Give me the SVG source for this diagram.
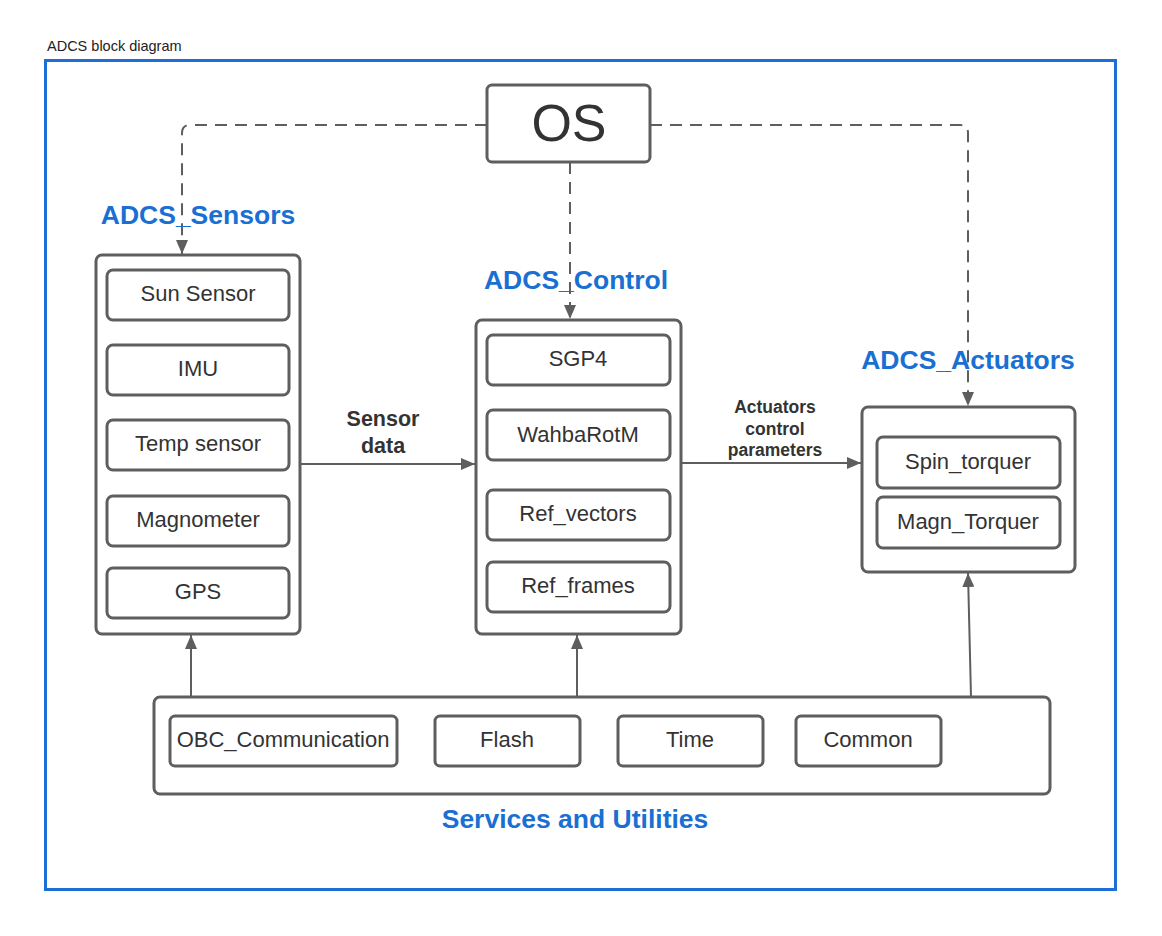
<svg xmlns="http://www.w3.org/2000/svg" width="1162" height="936" viewBox="0 0 1162 936">
<defs>
<marker id="ah" viewBox="0 0 14 12" refX="14" refY="6" markerWidth="14" markerHeight="12" markerUnits="userSpaceOnUse" orient="auto">
<path d="M0,0 L14,6 L0,12 z" fill="#5e5e5e"/>
</marker>
<style>
.box{fill:#fff;stroke:#5e5e5e;stroke-width:3}
.item{fill:#fff;stroke:#5e5e5e;stroke-width:3}
.t{font-family:"Liberation Sans",Arial,sans-serif;font-size:22px;fill:#333;text-anchor:middle;dominant-baseline:central}
.os{font-family:"Liberation Sans",Arial,sans-serif;font-size:52px;fill:#333;text-anchor:middle;dominant-baseline:central}
.h{font-family:"Liberation Sans",Arial,sans-serif;font-size:26.5px;font-weight:bold;fill:#1a6fd3;text-anchor:middle}
.lbl{font-family:"Liberation Sans",Arial,sans-serif;font-weight:bold;fill:#333;text-anchor:middle}
.l1{font-size:21.5px}
.l2{font-size:17.5px}
.c{fill:none;stroke:#5e5e5e;stroke-width:2}
.d{fill:none;stroke:#5e5e5e;stroke-width:2;stroke-dasharray:12 8}
</style>
</defs>
<rect width="1162" height="936" fill="#fff"/>
<text x="47" y="51" font-family="Liberation Sans,Arial,sans-serif" font-size="14.5" fill="#222">ADCS block diagram</text>
<rect x="45.5" y="60.5" width="1070" height="829" fill="none" stroke="#1d6fd6" stroke-width="3"/>

<g id="connectors">
<path class="d" d="M487,125 H190 Q182,125 182,133 V254" marker-end="url(#ah)"/>
<path class="d" d="M570,162 V319" marker-end="url(#ah)"/>
<path class="d" d="M650,125 H960 Q968,125 968,133 V406" marker-end="url(#ah)"/>
<path class="c" d="M300,464 H475" marker-end="url(#ah)"/>
<path class="c" d="M681,463 H861" marker-end="url(#ah)"/>
<path class="c" d="M191,697 V635" marker-end="url(#ah)"/>
<path class="c" d="M577,697 V635" marker-end="url(#ah)"/>
<path class="c" d="M971,697 L968,573" marker-end="url(#ah)"/>
<text class="lbl l1" x="383" y="426">Sensor</text>
<text class="lbl l1" x="383" y="453">data</text>
<text class="lbl l2" x="775" y="413">Actuators</text>
<text class="lbl l2" x="775" y="435">control</text>
<text class="lbl l2" x="775" y="456">parameters</text>
</g>

<g id="os">
<rect class="box" x="487" y="85" width="163" height="77" rx="5"/>
<text class="os" x="569" y="123">OS</text>
</g>

<g id="sensors">
<text class="h" x="198" y="224">ADCS_Sensors</text>
<rect class="box" x="96" y="255" width="204" height="379" rx="6"/>
<rect class="item" x="107" y="270" width="182" height="50" rx="6"/>
<text class="t" x="198" y="293">Sun Sensor</text>
<rect class="item" x="107" y="345" width="182" height="50" rx="6"/>
<text class="t" x="198" y="368">IMU</text>
<rect class="item" x="107" y="420" width="182" height="50" rx="6"/>
<text class="t" x="198" y="443">Temp sensor</text>
<rect class="item" x="107" y="496" width="182" height="50" rx="6"/>
<text class="t" x="198" y="519">Magnometer</text>
<rect class="item" x="107" y="568" width="182" height="50" rx="6"/>
<text class="t" x="198" y="591">GPS</text>
</g>

<g id="control">
<text class="h" x="576" y="289">ADCS_Control</text>
<rect class="box" x="476" y="320" width="205" height="314" rx="6"/>
<rect class="item" x="487" y="335" width="183" height="50" rx="6"/>
<text class="t" x="578" y="358">SGP4</text>
<rect class="item" x="487" y="410" width="183" height="50" rx="6"/>
<text class="t" x="578" y="434">WahbaRotM</text>
<rect class="item" x="487" y="490" width="183" height="50" rx="6"/>
<text class="t" x="578" y="513">Ref_vectors</text>
<rect class="item" x="487" y="562" width="183" height="50" rx="6"/>
<text class="t" x="578" y="585">Ref_frames</text>
</g>

<g id="actuators">
<text class="h" x="968" y="369">ADCS_Actuators</text>
<rect class="box" x="862" y="407" width="213" height="165" rx="6"/>
<rect class="item" x="877" y="437" width="183" height="51" rx="6"/>
<text class="t" x="968" y="461">Spin_torquer</text>
<rect class="item" x="877" y="497" width="183" height="51" rx="6"/>
<text class="t" x="968" y="521">Magn_Torquer</text>
</g>

<g id="services">
<rect class="box" x="154" y="697" width="896" height="97" rx="6"/>
<rect class="item" x="170" y="716" width="227" height="50" rx="5"/>
<text class="t" x="283" y="739">OBC_Communication</text>
<rect class="item" x="435" y="716" width="145" height="50" rx="5"/>
<text class="t" x="507" y="739">Flash</text>
<rect class="item" x="618" y="716" width="145" height="50" rx="5"/>
<text class="t" x="690" y="739">Time</text>
<rect class="item" x="796" y="716" width="145" height="50" rx="5"/>
<text class="t" x="868" y="739">Common</text>
<text class="h" x="575" y="828">Services and Utilities</text>
</g>
</svg>
